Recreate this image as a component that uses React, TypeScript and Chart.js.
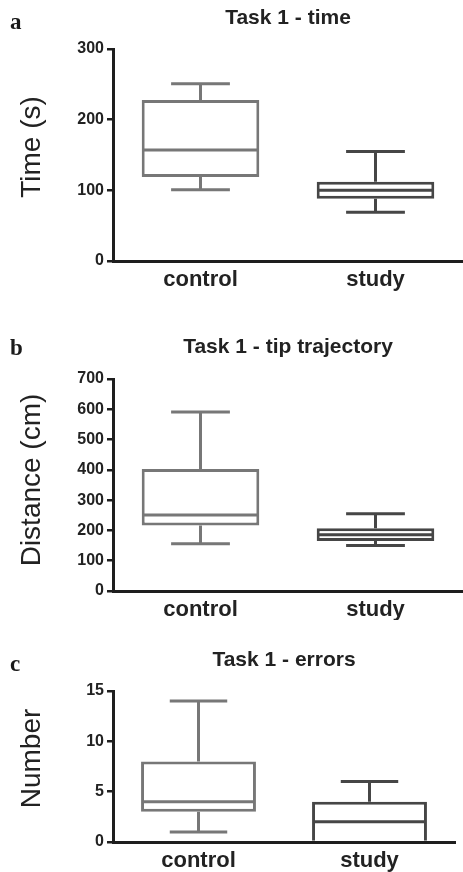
import React, { useEffect, useRef } from "react";
import { Chart, registerables } from "chart.js";

Chart.register(...registerables);

const categories = ["control", "study"];
const boxColors = ["#777777", "#464646"];

// Panel a: Task 1 - time
const timeMin = [101, 69];
const timeQ1 = [119, 88];
const timeMedian = [157, 100];
const timeQ3 = [228, 112];
const timeMax = [251, 155];
const timeTicks = [0, 100, 200, 300];

// Panel b: Task 1 - tip trajectory
const distMin = [156, 150];
const distQ1 = [216, 165];
const distMedian = [251, 186];
const distQ3 = [403, 207];
const distMax = [591, 255];
const distTicks = [0, 100, 200, 300, 400, 500, 600, 700];

// Panel c: Task 1 - errors
const errMin = [1, 0];
const errQ1 = [3, 0];
const errMedian = [4, 2];
const errQ3 = [8, 4];
const errMax = [14, 6];
const errTicks = [0, 5, 10, 15];

const SANS = "'Liberation Sans', Arial, Helvetica, sans-serif";
const SERIF = "'Liberation Serif', 'Times New Roman', serif";
const AXIS = "#1e1e1e";

type PanelProps = {
  letter: string;
  title: string;
  yLabel: string;
  ticks: number[];
  min: number[];
  q1: number[];
  median: number[];
  q3: number[];
  max: number[];
  top: number;
  height: number;
  areaTop: number;
  areaBottom: number;
  rightPad: number;
  letterBaseline: number;
  titleBaseline: number;
  yLabelShift: number;
};

function Panel(p: PanelProps) {
  const ref = useRef<HTMLCanvasElement | null>(null);
  useEffect(() => {
    if (!ref.current) return;
    const whiskerPlugin = {
      id: "whiskers",
      afterDatasetsDraw(chart: any) {
        const ctx = chart.ctx;
        const ys = chart.scales.y;
        const meta = chart.getDatasetMeta(0);
        meta.data.forEach((el: any, i: number) => {
          const x = el.x;
          const w = el.width;
          ctx.save();
          ctx.strokeStyle = boxColors[i];
          ctx.lineWidth = 3;
          ctx.lineCap = "butt";
          const yMax = ys.getPixelForValue(p.max[i]);
          const yQ3 = ys.getPixelForValue(p.q3[i]);
          const yQ1 = ys.getPixelForValue(p.q1[i]);
          const yMin = ys.getPixelForValue(p.min[i]);
          const yMed = ys.getPixelForValue(p.median[i]);
          ctx.beginPath();
          if (p.max[i] > p.q3[i]) {
            ctx.moveTo(x, yQ3);
            ctx.lineTo(x, yMax);
            ctx.moveTo(x - w / 4, yMax);
            ctx.lineTo(x + w / 4, yMax);
          }
          if (p.min[i] < p.q1[i]) {
            ctx.moveTo(x, yQ1);
            ctx.lineTo(x, yMin);
            ctx.moveTo(x - w / 4, yMin);
            ctx.lineTo(x + w / 4, yMin);
          }
          ctx.moveTo(x - w / 2 + 1.5, yMed);
          ctx.lineTo(x + w / 2 - 1.5, yMed);
          ctx.stroke();
          ctx.restore();
        });
      },
      afterDraw(chart: any) {
        const ctx = chart.ctx;
        const area = chart.chartArea;
        ctx.save();
        ctx.fillStyle = "#1a1a1a";
        ctx.textBaseline = "alphabetic";
        ctx.textAlign = "left";
        ctx.font = `bold 23px ${SERIF}`;
        ctx.fillText(p.letter, 10, p.letterBaseline);
        ctx.fillStyle = "#222222";
        ctx.textAlign = "center";
        ctx.font = `bold 21px ${SANS}`;
        ctx.fillText(p.title, (area.left + area.right) / 2, p.titleBaseline);
        // y axis title
        ctx.save();
        ctx.translate(32, (area.top + area.bottom) / 2 + p.yLabelShift);
        ctx.rotate(-Math.PI / 2);
        ctx.textAlign = "center";
        ctx.textBaseline = "middle";
        ctx.font = `28px ${SANS}`;
        ctx.fillText(p.yLabel, 0, 0);
        ctx.restore();
        ctx.restore();
      },
    };

    const chart = new Chart(ref.current, {
      type: "bar",
      data: {
        labels: categories,
        datasets: [
          {
            data: categories.map((_, i) => [p.q1[i], p.q3[i]]) as any,
            backgroundColor: "#ffffff",
            borderColor: boxColors,
            borderWidth: 3,
            borderSkipped: (c: any) => (p.q1[c.dataIndex] === p.ticks[0] ? "bottom" : false),
            barPercentage: 0.672,
            categoryPercentage: 1,
          },
        ],
      },
      options: {
        animation: false,
        responsive: false,
        events: [],
        layout: { padding: { top: p.areaTop, right: p.rightPad, left: 0, bottom: 0 } },
        plugins: { legend: { display: false }, tooltip: { enabled: false }, title: { display: false } },
        scales: {
          x: {
            offset: true,
            grid: { display: false, drawTicks: false },
            border: { display: true, color: AXIS, width: 3 },
            ticks: { color: "#222222", font: { family: SANS, size: 22, weight: "bold" }, padding: 6 },
            afterFit: (s: any) => {
              s.height = p.height - p.areaBottom;
            },
          },
          y: {
            min: p.ticks[0],
            max: p.ticks[p.ticks.length - 1],
            grid: { display: true, drawOnChartArea: false, drawTicks: true, tickLength: 6, color: AXIS, lineWidth: 2.5 },
            border: { display: true, color: AXIS, width: 3 },
            ticks: { color: "#222222", font: { family: SANS, size: 16, weight: "bold" }, padding: 3 },
            afterBuildTicks: (s: any) => {
              s.ticks = p.ticks.map((v) => ({ value: v }));
            },
            afterFit: (s: any) => {
              s.width = 113;
            },
          },
        },
      },
      plugins: [whiskerPlugin],
    } as any);
    return () => chart.destroy();
  }, []);

  return (
    <canvas
      ref={ref}
      width={463}
      height={p.height}
      style={{ position: "absolute", left: 0, top: p.top, width: 463, height: p.height }}
    />
  );
}

export default function App() {
  return (
    <div style={{ position: "absolute", left: 0, top: 0, width: 463, height: 872, background: "#ffffff" }}>
      <Panel
        letter="a"
        title="Task 1 - time"
        yLabel="Time (s)"
        ticks={timeTicks}
        min={timeMin}
        q1={timeQ1}
        median={timeMedian}
        q3={timeQ3}
        max={timeMax}
        top={0}
        height={300}
        areaTop={49}
        areaBottom={261}
        rightPad={0}
        letterBaseline={29}
        titleBaseline={24}
        yLabelShift={-8}
      />
      <Panel
        letter="b"
        title="Task 1 - tip trajectory"
        yLabel="Distance (cm)"
        ticks={distTicks}
        min={distMin}
        q1={distQ1}
        median={distMedian}
        q3={distQ3}
        max={distMax}
        top={300}
        height={320}
        areaTop={79}
        areaBottom={291}
        rightPad={0}
        letterBaseline={55}
        titleBaseline={53}
        yLabelShift={-5}
      />
      <Panel
        letter="c"
        title="Task 1 - errors"
        yLabel="Number"
        ticks={errTicks}
        min={errMin}
        q1={errQ1}
        median={errMedian}
        q3={errQ3}
        max={errMax}
        top={620}
        height={252}
        areaTop={71}
        areaBottom={222}
        rightPad={8}
        letterBaseline={51}
        titleBaseline={46}
        yLabelShift={-8}
      />
    </div>
  );
}
